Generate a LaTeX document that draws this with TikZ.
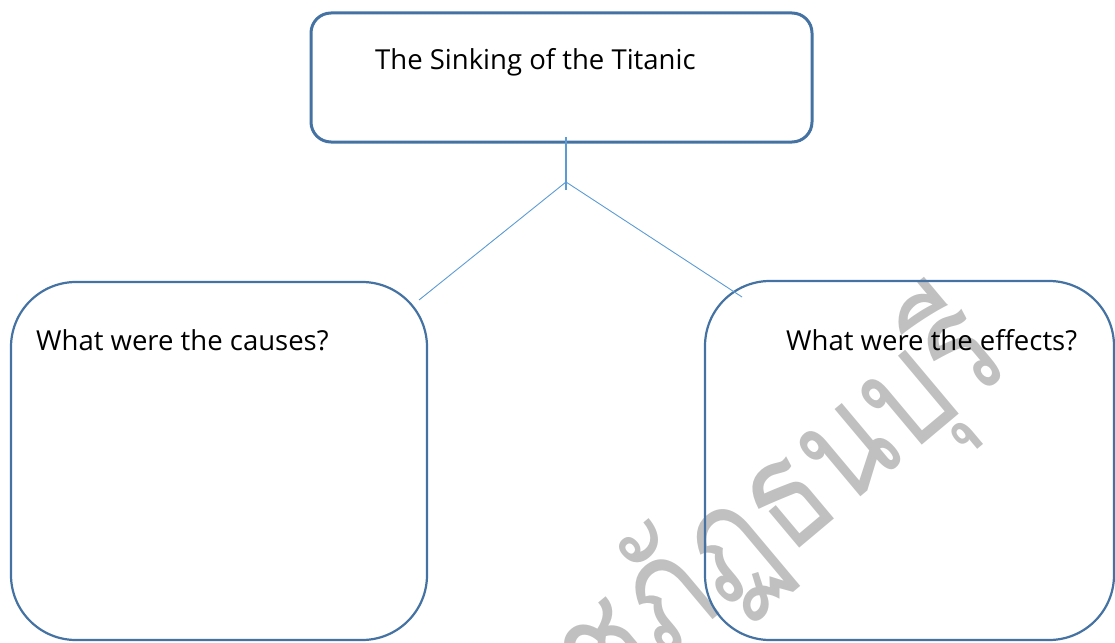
\documentclass[tikz,border=0pt]{standalone}
\usepackage{fontspec}
\setmainfont{Open Sans}
\newfontfamily\thaifont[Script=Thai]{Loma}
\usetikzlibrary{positioning}
\definecolor{boxblue}{RGB}{68,114,162}
\definecolor{linkblue}{RGB}{91,155,213}
\definecolor{markgray}{RGB}{192,192,192}

\begin{document}
\begin{tikzpicture}[x=1pt,y=-1pt,
  box/.style={draw=boxblue, line width=2.2pt, rounded corners=65pt, inner sep=0pt},
  boxlabel/.style={font=\fontsize{27.5}{32}\selectfont, anchor=base west, inner sep=0pt},
  link/.style={draw=linkblue, line width=0.9pt}]
\useasboundingbox (0,0) rectangle (1115,642);
\clip (0,0) rectangle (1115,642);

% watermark behind everything
\node[font=\thaifont\fontsize{150}{150}\selectfont, text=markgray, rotate=40, xscale=0.8,
      anchor=base east, inner sep=0pt] (mark) at (1015,367) {ราชภัฏธนบุรี};

% boxes
\node[box, rounded corners=20pt, line width=3pt, minimum width=501pt, minimum height=129pt] (title) at (561.5,77.5) {};
\node[box, minimum width=416pt, minimum height=358pt] (causes) at (219,461) {};
\node[box, minimum width=409pt, minimum height=359pt] (effects) at (909.5,460.5) {};

\node[boxlabel] (titletext) at (375,70) {The Sinking of the Titanic};
\node[boxlabel] (causestext) at (36,350) {What were the causes?};
\node[boxlabel] (effectstext) at (786,350) {What were the effects?};

% connectors
\coordinate (stemtop) at (566,137);
\coordinate (stemend) at (566,190);
\coordinate (fork) at (566,182);
\coordinate (leftend) at (419,300);
\coordinate (rightend) at (742,297);
\draw[link, line width=1.8pt] (stemtop) -- (stemend);
\draw[link] (leftend) -- (fork) -- (rightend);
\end{tikzpicture}
\end{document}
